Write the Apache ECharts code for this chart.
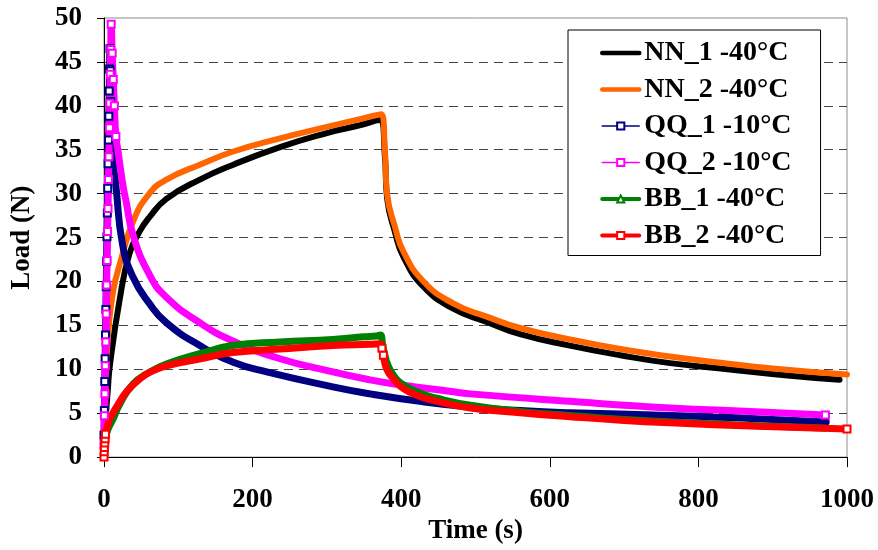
<!DOCTYPE html>
<html>
<head>
<meta charset="utf-8">
<script src="https://cdn.jsdelivr.net/npm/echarts@6.0.0/dist/echarts.min.js"></script>
<style>
  html, body { margin: 0; padding: 0; background: #fff; }
  #chart { width: 878px; height: 550px; }
</style>
</head>
<body>
<div id="chart"></div>
<script>
  // values (time in s, load in N)
  const nn1Time = [0, 2, 5, 8, 21, 34, 48, 61, 84, 129, 174, 237, 300, 340, 372, 378, 381, 392, 403, 430, 470, 515, 560, 627, 695, 762, 830, 920, 990]
  const nn1Load = [0, 4, 7.5, 10.5, 17.9, 23.1, 25.7, 27.3, 29.4, 31.6, 33.3, 35.3, 36.9, 37.7, 38.4, 34.3, 29.5, 25.5, 22.8, 19.4, 16.9, 15.4, 14.0, 12.7, 11.6, 10.7, 10.1, 9.3, 8.8]

  const nn2Time = [0, 1, 3, 7, 13, 21, 39, 61, 84, 129, 174, 237, 300, 340, 373, 378, 381, 392, 403, 430, 470, 515, 560, 627, 695, 762, 830, 900, 1000]
  const nn2Load = [0, 3, 10.5, 15.5, 19.2, 21.9, 26.8, 30.0, 31.6, 33.3, 34.8, 36.3, 37.6, 38.4, 39.05, 35, 30, 26.1, 23.4, 20, 17.5, 16.0, 14.7, 13.4, 12.3, 11.45, 10.75, 10.1, 9.4]

  const qq1Time = [0, 0.5, 1, 1.5, 2, 2.5, 3, 3.5, 4, 4.5, 5, 5.5, 6, 6.5, 7, 7.5, 8, 8.5, 9, 10, 12, 16, 25, 39, 61, 84, 129, 174, 219, 308, 358, 425, 493, 560, 627, 762, 870, 972]
  const qq1Load = [2.5, 5.3, 8.6, 11.2, 13.9, 16.8, 19.4, 22.3, 25.1, 27.8, 30.6, 33.4, 36.1, 38.8, 41.7, 44.2, 46.5, 44, 40.5, 37, 34, 30.9, 24.2, 20.5, 17.5, 15.3, 12.7, 10.8, 9.7, 8.0, 7.2, 6.35, 5.7, 5.3, 5.05, 4.75, 4.4, 4.0]

  const qq2Time = [0, 0.6, 1.2, 1.8, 2.4, 3, 3.6, 4.2, 4.8, 5.4, 6, 6.6, 7.2, 7.8, 8.4, 9, 9.7, 11, 12.5, 14, 16, 18.6, 25, 30, 39, 61, 84, 129, 174, 237, 308, 358, 400, 465, 493, 627, 762, 870, 971]
  const qq2Load = [1.5, 4.7, 7.2, 10.4, 13.1, 16.3, 19.6, 22.4, 25.7, 28.3, 31.6, 34.2, 37.5, 40.3, 43.6, 46.4, 49.3, 46, 43, 40, 36.5, 35, 31.2, 29, 25.3, 20.8, 18.2, 15.3, 13.2, 11.2, 9.7, 8.8, 8.2, 7.5, 7.2, 6.35, 5.6, 5.2, 4.8]

  const bb1Time = [0, 1, 3, 6, 12, 21, 39, 60, 84, 130, 173, 237, 308, 350, 367, 372, 375, 378, 382, 389, 400, 425, 448, 493, 560, 627, 695, 762, 870, 970]
  const bb1Load = [0, 1.5, 2.5, 3.3, 4.3, 6.0, 8.3, 9.6, 10.6, 11.8, 12.7, 13.1, 13.4, 13.7, 13.8, 13.9, 12.8, 11.6, 10.5, 9.4, 8.4, 7.3, 6.7, 5.9, 5.2, 4.75, 4.3, 4.0, 3.6, 3.3]

  const bb2Time = [0, 0.3, 0.6, 1, 1.5, 2, 3, 5, 7, 12, 21, 30, 48, 65, 84, 130, 173, 237, 308, 358, 372, 374, 376, 380, 389, 403, 425, 448, 493, 560, 627, 695, 762, 880, 1000]
  const bb2Load = [0, 0.6, 1.1, 1.6, 2.1, 2.6, 3.0, 3.6, 4.2, 5.0, 6.3, 7.4, 8.9, 9.8, 10.4, 11.2, 11.9, 12.3, 12.7, 12.85, 12.9, 12.4, 11.6, 10.1, 8.95, 7.8, 6.9, 6.35, 5.6, 5.05, 4.6, 4.2, 3.9, 3.5, 3.2]

  const seriesNames = ['NN_1 -40°C', 'NN_2 -40°C', 'QQ_1 -10°C', 'QQ_2 -10°C', 'BB_1 -40°C', 'BB_2 -40°C']
  const xTicks = [0, 200, 400, 600, 800, 1000]
  const yTicks = [0, 5, 10, 15, 20, 25, 30, 35, 40, 45, 50]

  const font = 'Liberation Serif'

  // markers only where the original samples are sparse enough to be seen
  function points(times, loads, marked) {
    return times.map(function (t, i) {
      const item = { value: [t, loads[i]] }
      if (!marked(t, i, times.length)) item.symbol = 'none'
      return item
    })
  }

  function lineSeries(name, color, width, symbol, data) {
    return {
      name: name,
      type: 'line',
      data: data,
      smooth: 0.5,
      symbol: symbol,
      symbolSize: 7,
      showSymbol: true,
      showAllSymbol: true,
      color: color,
      itemStyle: { color: color, borderColor: color, borderWidth: 1.5 },
      lineStyle: { color: color, width: width, cap: 'round', join: 'round' },
      emphasis: { disabled: true }
    }
  }

  const axisFont = { fontFamily: font, fontSize: 27, fontWeight: 'bold', color: '#000' }

  const chart = echarts.init(document.getElementById('chart'))
  chart.setOption({
    animation: false,
    textStyle: { fontFamily: font },
    grid: {
      left: 104,
      right: 31,
      top: 18,
      bottom: 83,
      show: true,
      borderColor: '#8c8c8c',
      borderWidth: 1,
      backgroundColor: 'transparent'
    },
    legend: {
      orient: 'vertical',
      left: 568,
      top: 30,
      padding: [9, 29, 6, 32],
      itemGap: 8.5,
      itemWidth: 37,
      itemHeight: 9,
      backgroundColor: '#fff',
      borderColor: '#000',
      borderWidth: 1,
      textStyle: { fontFamily: font, fontSize: 28, fontWeight: 'bold', color: '#000' },
      data: [
        { name: seriesNames[0], lineStyle: { width: 4.5 }, itemStyle: { opacity: 0 } },
        { name: seriesNames[1], lineStyle: { width: 4.5 }, itemStyle: { opacity: 0 } },
        { name: seriesNames[2], lineStyle: { width: 1.5 } },
        { name: seriesNames[3], lineStyle: { width: 1.5 } },
        { name: seriesNames[4], lineStyle: { width: 4 } },
        { name: seriesNames[5], lineStyle: { width: 4 } }
      ]
    },
    xAxis: {
      type: 'value',
      min: xTicks[0],
      max: xTicks[xTicks.length - 1],
      interval: 200,
      name: 'Time (s)',
      nameLocation: 'middle',
      nameGap: 48,
      nameTextStyle: axisFont,
      axisLine: { show: true, lineStyle: { color: '#000', width: 1 } },
      axisTick: { show: true, length: 10, lineStyle: { color: '#000' } },
      axisLabel: Object.assign({ margin: 29, formatter: function (v) { return String(v) } }, axisFont),
      splitLine: { show: false }
    },
    yAxis: {
      type: 'value',
      min: yTicks[0],
      max: yTicks[yTicks.length - 1],
      interval: 5,
      name: 'Load (N)',
      nameLocation: 'middle',
      nameGap: 68,
      nameRotate: 90,
      nameTextStyle: axisFont,
      axisLine: { show: true, lineStyle: { color: '#000', width: 1 } },
      axisTick: { show: true, length: 7, lineStyle: { color: '#000' } },
      axisLabel: Object.assign({ margin: 22 }, axisFont),
      splitLine: {
        show: true,
        lineStyle: {
          color: ['transparent', '#444', '#444', '#444', '#444', '#444', '#444', '#444', '#444', '#444', 'transparent'],
          type: [9, 6],
          width: 1
        }
      }
    },
    series: [
      lineSeries(seriesNames[0], '#000000', 6, 'none', points(nn1Time, nn1Load, function () { return false })),
      lineSeries(seriesNames[1], '#ff6600', 6, 'none', points(nn2Time, nn2Load, function () { return false })),
      lineSeries(seriesNames[2], '#000080', 7, 'emptyRect',
        points(qq1Time, qq1Load, function (t) { return t <= 9 })),
      lineSeries(seriesNames[3], '#ff00ff', 7, 'emptyRect',
        points(qq2Time, qq2Load, function (t, i, n) { return t <= 16 || i === n - 1 })),
      lineSeries(seriesNames[4], '#008000', 7, 'emptyTriangle', points(bb1Time, bb1Load, function () { return false })),
      lineSeries(seriesNames[5], '#ff0000', 7, 'emptyRect',
        points(bb2Time, bb2Load, function (t, i, n) { return t <= 2 || t === 374 || t === 376 || i === n - 1 }))
    ]
  })
</script>
</body>
</html>
